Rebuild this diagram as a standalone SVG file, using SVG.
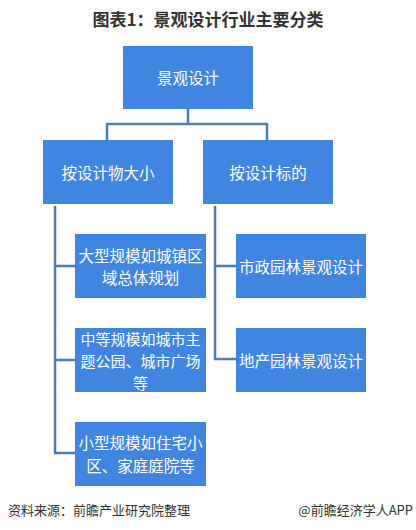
<svg xmlns="http://www.w3.org/2000/svg" width="416" height="530" viewBox="0 0 416 530">
<style>
.box{fill:#4086E0}
.t{fill:#fff;font-family:"Noto Sans CJK SC","Noto Sans",sans-serif;font-size:15.5px;text-anchor:middle;dominant-baseline:central}
.s{font-size:15px}
.c{stroke:#4A7FB6;stroke-width:2.5;fill:none}
.title{font-family:"Noto Sans CJK SC",sans-serif;font-size:17px;font-weight:bold;fill:#333;text-anchor:middle}
.foot{font-family:"Noto Sans CJK SC",sans-serif;font-size:13px;fill:#333}
</style>
<rect width="416" height="530" fill="#fff"/>
<text class="title" x="208" y="26">图表1：景观设计行业主要分类</text>
<g id="connectors">
<path class="c" d="M188 109V124M107 124H267M107 123V140M267 123V140"/>
<path class="c" d="M55 206V453M54 266H75M54 360H75M54 453H75"/>
<path class="c" d="M215 206V360M214 266H236M214 359H236"/>
</g>
<g id="root"><rect class="box" x="123" y="46" width="130" height="63"/><text class="t" x="188" y="77">景观设计</text></g>
<g id="size"><rect class="box" x="43" y="140" width="130" height="64"/><text class="t" x="108" y="172">按设计物大小</text></g>
<g id="target"><rect class="box" x="203" y="140" width="130" height="64"/><text class="t" x="268" y="172">按设计标的</text></g>
<g id="large"><rect class="box" x="75" y="234" width="131" height="64"/><text class="t"><tspan x="140.5" y="254.5">大型规模如城镇区</tspan><tspan x="140.5" y="277">域总体规划</tspan></text></g>
<g id="medium"><rect class="box" x="75" y="328" width="131" height="64"/><text class="t s"><tspan x="140.5" y="338">中等规模如城市主</tspan><tspan x="140.5" y="360">题公园、城市广场</tspan><tspan x="140.5" y="382">等</tspan></text></g>
<g id="small"><rect class="box" x="75" y="422" width="131" height="64"/><text class="t"><tspan x="140.5" y="442">小型规模如住宅小</tspan><tspan x="140.5" y="464.5">区、家庭庭院等</tspan></text></g>
<g id="municipal"><rect class="box" x="236" y="234" width="130" height="64"/><text class="t" x="301" y="266">市政园林景观设计</text></g>
<g id="realestate"><rect class="box" x="236" y="328" width="130" height="64"/><text class="t" x="301" y="360">地产园林景观设计</text></g>
<text class="foot" x="8" y="515">资料来源：前瞻产业研究院整理</text>
<text class="foot" x="413" y="515" text-anchor="end" fill="#444">@前瞻经济学人APP</text>
</svg>
